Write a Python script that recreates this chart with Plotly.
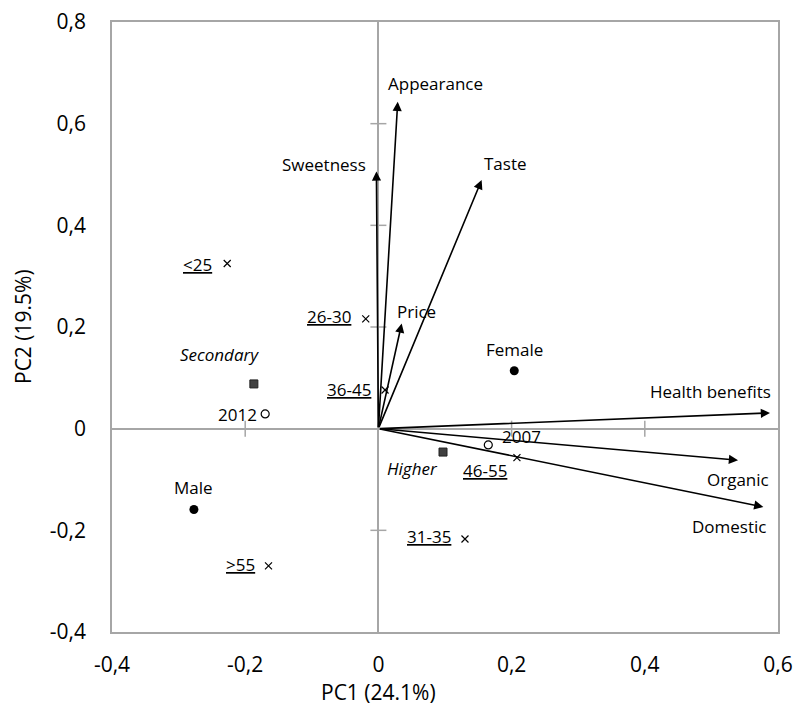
import plotly.graph_objects as go

# ---- data ----
var_names = ["Health benefits", "Organic", "Domestic", "Appearance", "Sweetness", "Taste", "Price"]
var_pc1 = [0.588, 0.540, 0.578, 0.029, -0.003, 0.155, 0.035]
var_pc2 = [0.031, -0.062, -0.154, 0.643, 0.506, 0.489, 0.207]

age_names = ["<25", "26-30", "36-45", "46-55", "31-35", ">55"]
age_pc1 = [-0.227, -0.019, 0.010, 0.208, 0.130, -0.165]
age_pc2 = [0.325, 0.216, 0.076, -0.057, -0.217, -0.270]

edu_names = ["Secondary", "Higher"]
edu_pc1 = [-0.187, 0.097]
edu_pc2 = [0.088, -0.046]

year_names = ["2012", "2007"]
year_pc1 = [-0.170, 0.165]
year_pc2 = [0.029, -0.032]

sex_names = ["Female", "Male"]
sex_pc1 = [0.204, -0.277]
sex_pc2 = [0.114, -0.159]

x_ticks = [-0.4, -0.2, 0, 0.2, 0.4, 0.6]
x_ticktext = ["-0,4", "-0,2", "0", "0,2", "0,4", "0,6"]
y_ticks = [-0.4, -0.2, 0, 0.2, 0.4, 0.6, 0.8]
y_ticktext = ["-0,4", "-0,2", "0", "0,2", "0,4", "0,6", "0,8"]

x_title = "PC1 (24.1%)"
y_title = "PC2 (19.5%)"

# ---- styles (label pixel offsets) ----
var_off = [(-60, -21), (0, 19), (-34, 20), (38, -18), (-52, -7), (24, -17), (15, -12)]
age_off = [(-30, 1), (-37, -2), (-36, -1), (-32, 13), (-36, -2), (-28, -1)]
edu_off = [(-34, -29), (-31, 16)]
year_off = [(-28, 1), (33, -8)]
sex_off = [(0, -21), (0, -22)]

FONT = "Open Sans"
GRAY = "#a6a6a6"
LBL = 17
TICK = 21
TITLE = 21

fig = go.Figure()

fig.add_trace(go.Scatter(x=age_pc1, y=age_pc2, mode="markers",
                         marker=dict(symbol="x-thin", size=7, color="black",
                                     line=dict(width=1.2, color="black")),
                         hoverinfo="skip", showlegend=False))
fig.add_trace(go.Scatter(x=edu_pc1, y=edu_pc2, mode="markers",
                         marker=dict(symbol="square", size=8, color="#404040",
                                     line=dict(width=1, color="#202020")),
                         hoverinfo="skip", showlegend=False))
fig.add_trace(go.Scatter(x=year_pc1, y=year_pc2, mode="markers",
                         marker=dict(symbol="circle-open", size=8, color="black",
                                     line=dict(width=1.2, color="black")),
                         hoverinfo="skip", showlegend=False))
fig.add_trace(go.Scatter(x=sex_pc1, y=sex_pc2, mode="markers",
                         marker=dict(symbol="circle", size=9, color="black"),
                         hoverinfo="skip", showlegend=False))

annotations = []
# arrows
for n, x, y in zip(var_names, var_pc1, var_pc2):
    annotations.append(dict(x=x, y=y, ax=0, ay=0, xref="x", yref="y", axref="x", ayref="y",
                            text="", showarrow=True, arrowhead=2, arrowsize=1.15, arrowwidth=1.6,
                            arrowcolor="black", standoff=0))

def add_labels(names, xs, ys, offs, fmt):
    for n, x, y, (dx, dy) in zip(names, xs, ys, offs):
        annotations.append(dict(x=x, y=y, xref="x", yref="y", text=fmt(n), showarrow=False,
                                xshift=dx, yshift=-dy, xanchor="center", yanchor="middle",
                                font=dict(family=FONT, size=LBL, color="black")))

def esc(s):
    return s.replace("<", "&lt;").replace(">", "&gt;")

add_labels(var_names, var_pc1, var_pc2, var_off, lambda s: s)
add_labels(age_names, age_pc1, age_pc2, age_off, lambda s: "<u>" + esc(s) + "</u>")
add_labels(edu_names, edu_pc1, edu_pc2, edu_off, lambda s: "<i>" + s + "</i>")
add_labels(year_names, year_pc1, year_pc2, year_off, lambda s: s)
add_labels(sex_names, sex_pc1, sex_pc2, sex_off, lambda s: s)

# axis titles (x title is centred on PC1 = 0 as in the reference)
annotations.append(dict(x=0, y=0, xref="x", yref="paper", text=x_title, showarrow=False,
                        xanchor="center", yanchor="middle", yshift=-60,
                        font=dict(family=FONT, size=TITLE, color="black")))
annotations.append(dict(x=0, y=0.5, xref="paper", yref="paper", text=y_title, showarrow=False,
                        xanchor="center", yanchor="middle", xshift=-89, textangle=-90,
                        font=dict(family=FONT, size=TITLE, color="black")))

shapes = []
# small cross ticks on the zero lines
for v in x_ticks:
    if v not in (0, x_ticks[0], x_ticks[-1]):
        shapes.append(dict(type="line", xref="x", yref="y", x0=v, x1=v, ysizemode="pixel",
                           yanchor=0, y0=-8, y1=8, line=dict(color=GRAY, width=1.5)))
for v in y_ticks:
    if v not in (0, y_ticks[0], y_ticks[-1]):
        shapes.append(dict(type="line", xref="x", yref="y", y0=v, y1=v, xsizemode="pixel",
                           xanchor=0, x0=-8, x1=8, line=dict(color=GRAY, width=1.5)))

fig.update_layout(
    width=795, height=711,
    margin=dict(l=112, r=17, t=22, b=79, autoexpand=False),
    paper_bgcolor="white", plot_bgcolor="white",
    font=dict(family=FONT, color="black"),
    annotations=annotations, shapes=shapes,
    xaxis=dict(range=[-0.4, 0.6], tickvals=x_ticks, ticktext=x_ticktext, showgrid=False,
               zeroline=True, zerolinecolor=GRAY, zerolinewidth=1.5,
               showline=True, linecolor=GRAY, linewidth=1.5, mirror=True, ticks="",
               ticklabelstandoff=13, tickfont=dict(size=TICK), automargin=False,
               ticklabeloverflow="allow"),
    yaxis=dict(range=[-0.4, 0.8], tickvals=y_ticks, ticktext=y_ticktext, showgrid=False,
               zeroline=True, zerolinecolor=GRAY, zerolinewidth=1.5,
               showline=True, linecolor=GRAY, linewidth=1.5, mirror=True, ticks="",
               ticklabelstandoff=20, tickfont=dict(size=TICK), automargin=False,
               ticklabeloverflow="allow"),
)

# remove the browser's default 8px body margin so the figure fills the window exactly
fig.write_html("out.html", config={"displayModeBar": False},
               post_script="document.body.style.margin='0';")
